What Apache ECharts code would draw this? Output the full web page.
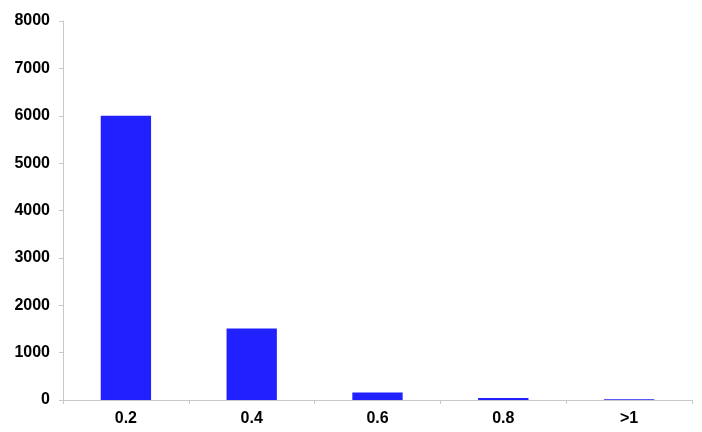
<!DOCTYPE html>
<html><head><meta charset="utf-8">
<script src="https://cdn.jsdelivr.net/npm/echarts@6/dist/echarts.min.js"></script>
<style>html,body{margin:0;padding:0;background:#fff}#c{width:702px;height:432px}</style>
</head><body><div id="c"></div>
<script>
const categories = ['0.2', '0.4', '0.6', '0.8', '>1'];
const counts = [6000, 1510, 160, 42, 15];
const yTicks = {min: 0, max: 8000, interval: 1000};

const chart = echarts.init(document.getElementById('c'), null, {renderer: 'canvas'});
chart.setOption({
  animation: false,
  backgroundColor: '#ffffff',
  grid: {left: 63, right: 10, top: 21, bottom: 32, containLabel: false},
  xAxis: {
    type: 'category',
    data: categories,
    boundaryGap: true,
    axisLine: {lineStyle: {color: '#c8c8c8', width: 1}},
    axisTick: {show: true, alignWithLabel: false, length: 4, lineStyle: {color: '#c8c8c8'}},
    axisLabel: {color: '#000', fontFamily: 'Liberation Sans, Arial, sans-serif', fontWeight: 'bold', fontSize: 16, margin: 11},
    splitLine: {show: false}
  },
  yAxis: {
    type: 'value',
    min: yTicks.min, max: yTicks.max, interval: yTicks.interval,
    axisLine: {show: true, lineStyle: {color: '#c8c8c8', width: 1}},
    axisTick: {show: true, length: 4, lineStyle: {color: '#c8c8c8'}},
    axisLabel: {color: '#000', fontFamily: 'Liberation Sans, Arial, sans-serif', fontWeight: 'bold', fontSize: 16, margin: 13,
      formatter: function (v) { return String(v); }},
    splitLine: {show: false}
  },
  series: [{
    type: 'bar',
    data: counts,
    barWidth: '40%',
    itemStyle: {color: '#2121ff'}
  }]
});
</script></body></html>
